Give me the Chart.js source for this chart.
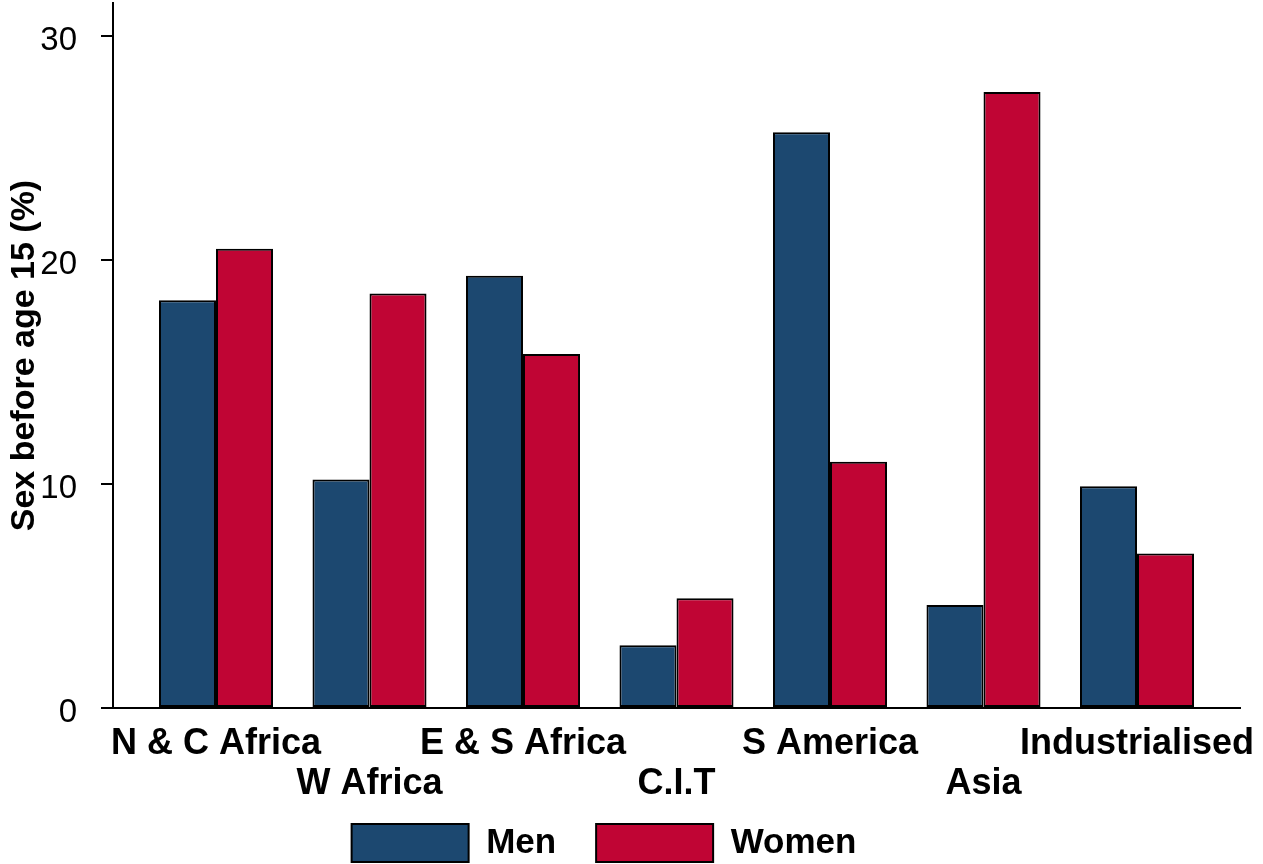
<!DOCTYPE html>
<html>
<head>
<meta charset="utf-8">
<script src="https://cdn.jsdelivr.net/npm/chart.js@4/dist/chart.umd.min.js"></script>
<style>
  html, body { margin: 0; padding: 0; background: #ffffff; }
  #wrap { width: 1263px; height: 864px; }
</style>
</head>
<body>
<div id="wrap"><canvas id="c" width="1263" height="864"></canvas></div>
<script>
const categories = ["N & C Africa", "W Africa", "E & S Africa", "C.I.T", "S America", "Asia", "Industrialised"];
const menValues = [18.2, 10.2, 19.3, 2.8, 25.7, 4.6, 9.9];
const womenValues = [20.5, 18.5, 15.8, 4.9, 11.0, 27.5, 6.9];
const yTicks = [0, 10, 20, 30];
const seriesNames = ["Men", "Women"];
const yTitle = "Sex before age 15 (%)";

const FONT = "'Liberation Sans', Arial, sans-serif";

const toPoints = vals => vals.map((v, i) => ({ x: i, y: v }));

const legendTweak = {
  id: 'legendTweak',
  beforeUpdate(chart) {
    const lg = chart.legend;
    if (lg && !lg._tweaked) {
      const origFit = lg.fit.bind(lg);
      lg.fit = function () {
        origFit();
        this.height = Math.max(0, this.height - 44);
      };
      lg._tweaked = true;
    }
  },
  afterLayout(chart) {
    const lg = chart.legend;
    if (lg) {
      lg.left -= 16;
      lg.right -= 16;
      lg.top -= 36;
      lg.bottom = chart.height + 20;
    }
  }
};

new Chart(document.getElementById('c'), {
  type: 'bar',
  data: {
    datasets: [
      {
        label: seriesNames[0],
        data: toPoints(menValues),
        backgroundColor: '#1c4870',
        borderColor: '#000000',
        borderWidth: 2,
        borderSkipped: false
      },
      {
        label: seriesNames[1],
        data: toPoints(womenValues),
        backgroundColor: '#c00534',
        borderColor: '#000000',
        borderWidth: 2,
        borderSkipped: false
      }
    ]
  },
  options: {
    responsive: false,
    animation: false,
    devicePixelRatio: 1,
    layout: { padding: { top: 3, right: 23, bottom: 0, left: 0 } },
    datasets: { bar: { categoryPercentage: 0.743, barPercentage: 1.0 } },
    plugins: {
      tooltip: { enabled: false },
      legend: {
        position: 'bottom',
        labels: {
          boxWidth: 117,
          boxHeight: 38,
          padding: 40,
          color: '#000000',
          font: { family: FONT, size: 35, weight: 'bold' }
        }
      }
    },
    scales: {
      x: {
        type: 'linear',
        offset: false,
        min: -0.671,
        max: 6.671,
        afterFit(scale) {
          scale.paddingLeft = 0;
          scale.paddingRight = 0;
        },
        grid: { display: false, drawTicks: false, offset: false },
        border: { display: true, color: '#000000', width: 2 },
        ticks: {
          stepSize: 1,
          includeBounds: false,
          autoSkip: false,
          maxRotation: 0,
          minRotation: 0,
          padding: 16,
          color: '#000000',
          font: { family: FONT, size: 36, weight: 'bold', lineHeight: 1.11 },
          callback: function (value) {
            const i = Math.round(value);
            if (Math.abs(value - i) > 1e-6 || i < 0 || i >= categories.length) return '';
            return i % 2 === 1 ? ['', categories[i]] : categories[i];
          }
        }
      },
      y: {
        min: 0,
        max: 31.47,
        afterFit(scale) {
          scale.width = 113;
          scale.paddingTop = 0;
          scale.paddingBottom = 0;
        },
        afterBuildTicks(scale) { scale.ticks = yTicks.map(v => ({ value: v })); },
        grid: {
          display: true,
          drawOnChartArea: false,
          drawTicks: true,
          tickLength: 12,
          color: '#000000',
          lineWidth: 2
        },
        border: { display: true, color: '#000000', width: 2 },
        ticks: {
          padding: 24,
          labelOffset: 5,
          color: '#000000',
          font: { family: FONT, size: 33 }
        },
        title: {
          display: true,
          text: yTitle,
          color: '#000000',
          font: { family: FONT, size: 34, weight: 'bold' },
          padding: { top: 4, bottom: 4 }
        }
      }
    }
  },
  plugins: [legendTweak]
});
</script>
</body>
</html>
